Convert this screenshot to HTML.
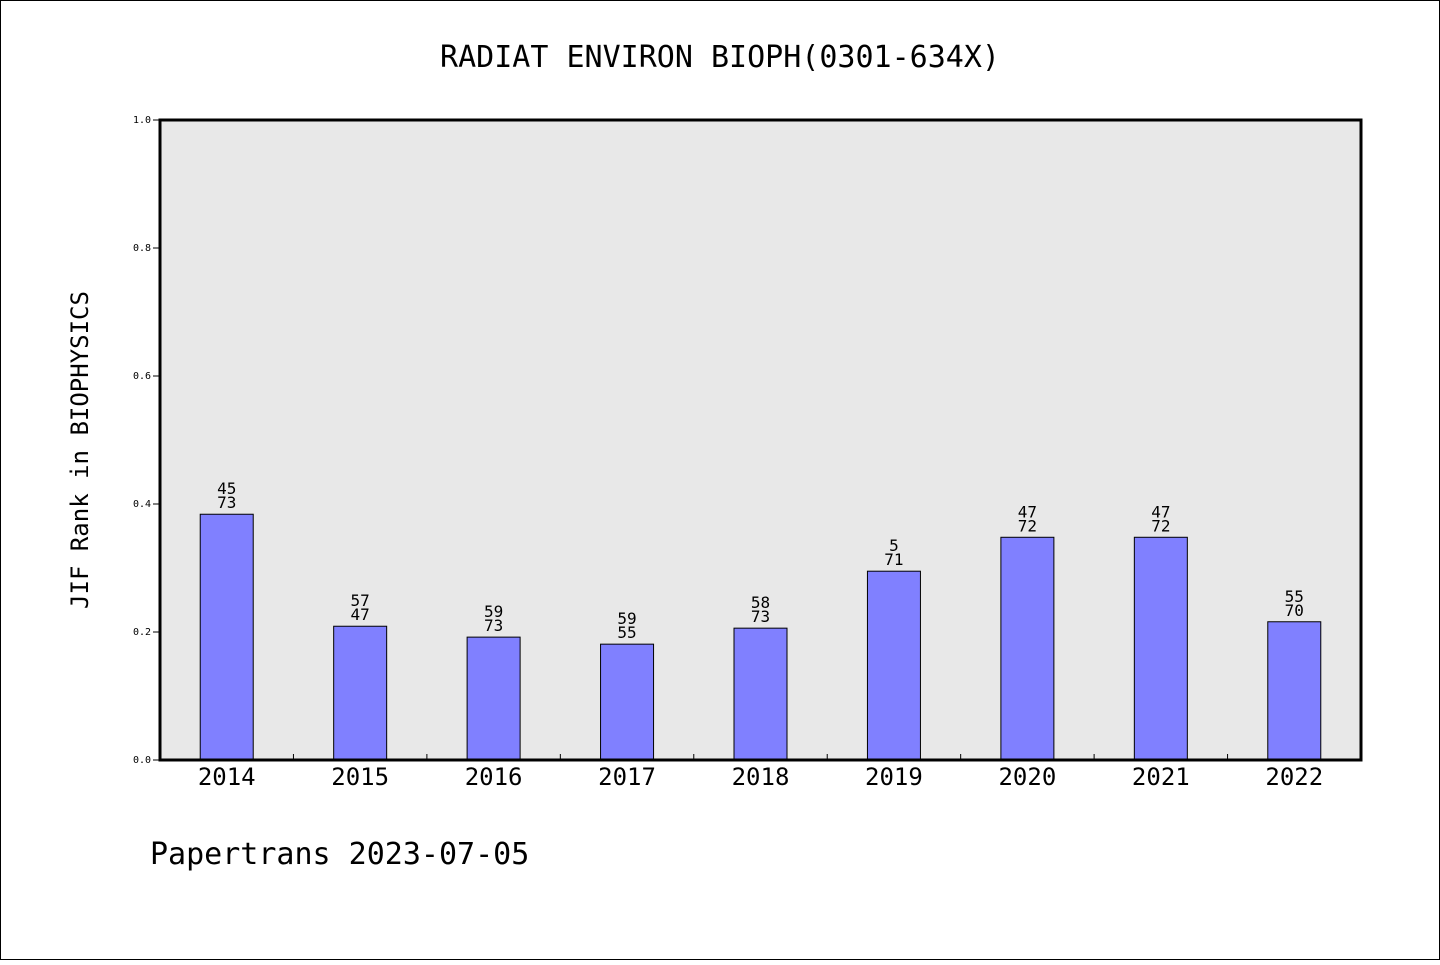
<!DOCTYPE html>
<html><head><meta charset="utf-8"><style>
body{margin:0;background:#fff}
svg text{font-family:"WenQuanYi Zen Hei","DejaVu Sans Mono",monospace;fill:#000}
</style></head><body>
<svg width="1440" height="960" xmlns="http://www.w3.org/2000/svg">
<rect x="0.5" y="0.5" width="1439" height="959" fill="#fff" stroke="#000"/>
<text x="720" y="67" font-size="30" text-anchor="middle">RADIAT ENVIRON BIOPH(0301-634X)</text>
<rect x="160" y="120" width="1201" height="640" fill="#e8e8e8"/>
<g id="marks"></g>
<rect x="160" y="120" width="1201" height="640" fill="none" stroke="#000" stroke-width="3"/>
<text transform="translate(88,450) rotate(-90)" font-size="24" text-anchor="middle">JIF Rank in BIOPHYSICS</text>
<text x="150" y="864" font-size="30">Papertrans 2023-07-05</text>
</svg>
<script>
const categories=["2014","2015","2016","2017","2018","2019","2020","2021","2022"];
const values=[0.384,0.209,0.192,0.181,0.206,0.295,0.348,0.348,0.216];
const topLabels=["45","57","59","59","58","5","47","47","55"];
const bottomLabels=["73","47","73","55","73","71","72","72","70"];
const yTicks=[0,0.2,0.4,0.6,0.8,1.0];
const NS="http://www.w3.org/2000/svg";
const X0=160,W=1201,Y0=760,H=640;
const band=W/categories.length;
const xs=i=>X0+(i+0.5)*band;
const ys=v=>Y0-v*H;
const g=document.getElementById('marks');
function mk(t,a){const e=document.createElementNS(NS,t);for(const k in a)e.setAttribute(k,a[k]);g.appendChild(e);return e;}
yTicks.forEach(t=>{
  const l=mk('line',{x1:153,x2:160,y1:ys(t),y2:ys(t),stroke:'#000'});
  
  
  const tx=mk('text',{x:151,y:ys(t)+3,'font-size':10,'text-anchor':'end'});
  tx.textContent=t.toFixed(1);
  
  
});
categories.forEach((c,i)=>{
  if(i>0){const tk=mk('line',{x1:X0+i*band,x2:X0+i*band,y1:754,y2:760,stroke:'#000'});
  
  }
  const y=ys(values[i]);
  const r=mk('rect',{x:xs(i)-26.5,y:y,width:53,height:Y0-y,fill:'#8080ff',stroke:'#000','stroke-width':1});
  
  
  const t1=mk('text',{x:xs(i),y:y-20,'font-size':16,'text-anchor':'middle'});
  t1.textContent=topLabels[i];
  
  
  const t2=mk('text',{x:xs(i),y:y-6,'font-size':16,'text-anchor':'middle'});
  t2.textContent=bottomLabels[i];
  
  
  const xl=mk('text',{x:xs(i),y:785,'font-size':24,'text-anchor':'middle'});
  xl.textContent=c;
  
  
});
</script>
</body></html>
